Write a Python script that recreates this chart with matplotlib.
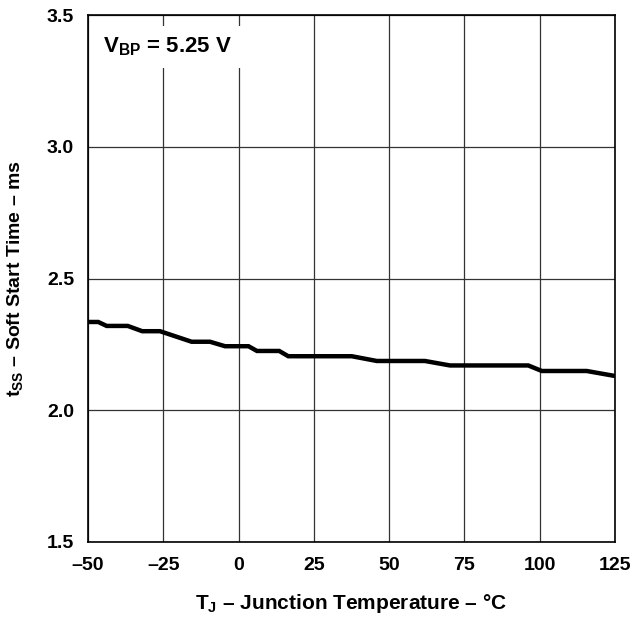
import matplotlib as mpl
import matplotlib.pyplot as plt

mpl.rcParams['font.family'] = ['Liberation Sans', 'DejaVu Sans']
mpl.rcParams['font.weight'] = 'bold'
mpl.rcParams['mathtext.fontset'] = 'custom'
mpl.rcParams['mathtext.rm'] = 'Liberation Sans:bold'
mpl.rcParams['mathtext.bf'] = 'Liberation Sans:bold'
mpl.rcParams['mathtext.it'] = 'Liberation Sans:bold'

# soft start time vs junction temperature
temp_c = [-50, -46.6, -43.8, -36.8, -32, -26.1, -15.6, -9.5, -4.5, 3.3, 6.1,
          13.5, 16.5, 37.6, 45.9, 61.9, 70.2, 96.2, 100.7, 115.6, 125]
tss_ms = [2.335, 2.335, 2.32, 2.32, 2.30, 2.30, 2.26, 2.26, 2.243, 2.243, 2.225,
          2.225, 2.205, 2.205, 2.187, 2.187, 2.17, 2.17, 2.149, 2.149, 2.13]

xticks = [-50, -25, 0, 25, 50, 75, 100, 125]
xtick_labels = ['\u201350', '\u201325', '0', '25', '50', '75', '100', '125']
yticks = [1.5, 2.0, 2.5, 3.0, 3.5]
ytick_labels = ['1.5', '2.0', '2.5', '3.0', '3.5']

fig = plt.figure(figsize=(6.35, 6.2), dpi=100)
ax = fig.add_axes([88/635, 78/620, 527/635, 527/620])

ax.plot(temp_c, tss_ms, color='black', lw=3.2, solid_joinstyle='miter', zorder=3)

ax.set_xlim(-50, 125)
ax.set_ylim(1.5, 3.5)
ax.set_xticks(xticks)
ax.set_xticklabels(xtick_labels)
ax.set_yticks(yticks)
ax.set_yticklabels(ytick_labels)
ax.tick_params(length=0, labelsize=14)
ax.tick_params(axis='x', pad=11)
ax.tick_params(axis='y', pad=10)
for lab in ax.get_xticklabels() + ax.get_yticklabels():
    lab.set_fontweight('bold')

ax.grid(True, color='#333333', lw=0.9)
for s in ax.spines.values():
    s.set_linewidth(1.2)

ax.set_xlabel('T$_{\\mathrm{J}}$ \u2013 Junction Temperature \u2013 \u00b0C',
              fontsize=15, fontweight='bold', labelpad=13)
ax.set_ylabel('t$_{\\mathrm{SS}}$ \u2013 Soft Start Time \u2013 ms',
              fontsize=14, fontweight='bold', labelpad=16)

ax.text(-45, 3.38, 'V$_{\\mathrm{BP}}$ = 5.25 V', fontsize=16, fontweight='bold',
        va='center', ha='left', zorder=4,
        bbox=dict(facecolor='white', edgecolor='none', pad=7))

fig.savefig('out.png', dpi=100)
